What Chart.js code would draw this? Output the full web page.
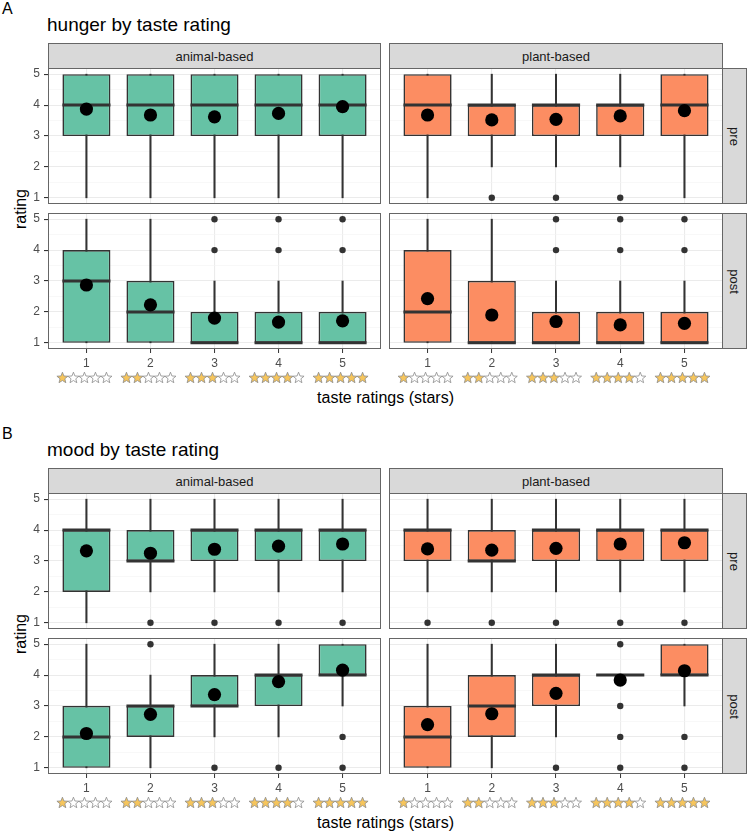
<!DOCTYPE html>
<html>
<head>
<meta charset="utf-8">
<script src="https://cdn.jsdelivr.net/npm/chart.js@4.4.1/dist/chart.umd.min.js"></script>
<style>
  html, body { margin: 0; padding: 0; background: #ffffff; }
  body { width: 749px; height: 832px; position: relative; overflow: hidden;
         font-family: "Liberation Sans", Arial, Helvetica, sans-serif; }
  canvas { position: absolute; }
  .txt { position: absolute; white-space: nowrap; }
  .strip { position: absolute; box-sizing: border-box; background: #d9d9d9; border: 1px solid #666;
           color: #1a1a1a; font-size: 13px; display: flex; align-items: center; justify-content: center; }
  .vtext { transform: rotate(90deg); display: inline-block; }
</style>
</head>
<body>
<script>
// ---------- data ----------
const tasteCategories = [1, 2, 3, 4, 5];
const tasteTickLabels = ['1', '2', '3', '4', '5'];
const starCounts = [1, 2, 3, 4, 5];
const ratingTicks = [1, 1.5, 2, 2.5, 3, 3.5, 4, 4.5, 5];
const ratingTickLabels = ['1', '', '2', '', '3', '', '4', '', '5'];
const dietLabels = ['animal-based', 'plant-based'];
const timeLabels = ['pre', 'post'];
const sectionLetters = ['A', 'B'];
const sectionTitles = ['hunger by taste rating', 'mood by taste rating'];

// A: hunger, animal-based, pre
const hungerAnimalPreLow  = [1, 1, 1, 1, 1];
const hungerAnimalPreQ1   = [3, 3, 3, 3, 3];
const hungerAnimalPreMed  = [4, 4, 4, 4, 4];
const hungerAnimalPreQ3   = [5, 5, 5, 5, 5];
const hungerAnimalPreHigh = [5, 5, 5, 5, 5];
const hungerAnimalPreMean = [3.87, 3.68, 3.62, 3.73, 3.95];
const hungerAnimalPreOut  = [[], [], [], [], []];
// A: hunger, animal-based, post
const hungerAnimalPostLow  = [1, 1, 1, 1, 1];
const hungerAnimalPostQ1   = [1, 1, 1, 1, 1];
const hungerAnimalPostMed  = [3, 2, 1, 1, 1];
const hungerAnimalPostQ3   = [4, 3, 2, 2, 2];
const hungerAnimalPostHigh = [5, 5, 3, 3, 3];
const hungerAnimalPostMean = [2.87, 2.23, 1.80, 1.67, 1.71];
const hungerAnimalPostOut  = [[], [], [4, 5], [4, 5], [4, 5]];
// A: hunger, plant-based, pre
const hungerPlantPreLow  = [1, 2, 2, 2, 1];
const hungerPlantPreQ1   = [3, 3, 3, 3, 3];
const hungerPlantPreMed  = [4, 4, 4, 4, 4];
const hungerPlantPreQ3   = [5, 4, 4, 4, 5];
const hungerPlantPreHigh = [5, 5, 5, 5, 5];
const hungerPlantPreMean = [3.68, 3.52, 3.54, 3.65, 3.82];
const hungerPlantPreOut  = [[], [1], [1], [1], []];
// A: hunger, plant-based, post
const hungerPlantPostLow  = [1, 1, 1, 1, 1];
const hungerPlantPostQ1   = [1, 1, 1, 1, 1];
const hungerPlantPostMed  = [2, 1, 1, 1, 1];
const hungerPlantPostQ3   = [4, 3, 2, 2, 2];
const hungerPlantPostHigh = [5, 5, 3, 3, 3];
const hungerPlantPostMean = [2.43, 1.90, 1.69, 1.58, 1.63];
const hungerPlantPostOut  = [[], [], [4, 5], [4, 5], [4, 5]];

// B: mood, animal-based, pre
const moodAnimalPreLow  = [1, 2, 2, 2, 2];
const moodAnimalPreQ1   = [2, 3, 3, 3, 3];
const moodAnimalPreMed  = [4, 3, 4, 4, 4];
const moodAnimalPreQ3   = [4, 4, 4, 4, 4];
const moodAnimalPreHigh = [5, 5, 5, 5, 5];
const moodAnimalPreMean = [3.33, 3.25, 3.38, 3.48, 3.55];
const moodAnimalPreOut  = [[], [1], [1], [1], [1]];
// B: mood, animal-based, post
const moodAnimalPostLow  = [1, 1, 2, 2, 3];
const moodAnimalPostQ1   = [1, 2, 3, 3, 4];
const moodAnimalPostMed  = [2, 3, 3, 4, 4];
const moodAnimalPostQ3   = [3, 3, 4, 4, 5];
const moodAnimalPostHigh = [5, 4, 5, 5, 5];
const moodAnimalPostMean = [2.11, 2.73, 3.37, 3.79, 4.16];
const moodAnimalPostOut  = [[], [5], [1], [1], [1, 2]];
// B: mood, plant-based, pre
const moodPlantPreLow  = [2, 2, 2, 2, 2];
const moodPlantPreQ1   = [3, 3, 3, 3, 3];
const moodPlantPreMed  = [4, 3, 4, 4, 4];
const moodPlantPreQ3   = [4, 4, 4, 4, 4];
const moodPlantPreHigh = [5, 5, 5, 5, 5];
const moodPlantPreMean = [3.39, 3.35, 3.41, 3.55, 3.59];
const moodPlantPreOut  = [[1], [1], [1], [1], [1]];
// B: mood, plant-based, post
const moodPlantPostLow  = [1, 1, 2, 4, 3];
const moodPlantPostQ1   = [1, 2, 3, 4, 4];
const moodPlantPostMed  = [2, 3, 4, 4, 4];
const moodPlantPostQ3   = [3, 4, 4, 4, 5];
const moodPlantPostHigh = [5, 5, 5, 4, 5];
const moodPlantPostMean = [2.40, 2.75, 3.41, 3.84, 4.14];
const moodPlantPostOut  = [[], [], [1], [1, 2, 3, 5], [1, 2]];

// ---------- layout / style ----------
const FONT = '"Liberation Sans", Arial, Helvetica, sans-serif';
const fills = ['#66c2a5', '#fc8d62'];
const cols = [{ l: 48, r: 381 }, { l: 389, r: 723 }];
const rows = [{ t: 68, b: 204 }, { t: 213, b: 349 }];
const sectionOffsets = [0, 425];

const panels = [
  { s: 0, c: 0, r: 0, lo: hungerAnimalPreLow, q1: hungerAnimalPreQ1, med: hungerAnimalPreMed, q3: hungerAnimalPreQ3, hi: hungerAnimalPreHigh, mean: hungerAnimalPreMean, out: hungerAnimalPreOut },
  { s: 0, c: 0, r: 1, lo: hungerAnimalPostLow, q1: hungerAnimalPostQ1, med: hungerAnimalPostMed, q3: hungerAnimalPostQ3, hi: hungerAnimalPostHigh, mean: hungerAnimalPostMean, out: hungerAnimalPostOut },
  { s: 0, c: 1, r: 0, lo: hungerPlantPreLow, q1: hungerPlantPreQ1, med: hungerPlantPreMed, q3: hungerPlantPreQ3, hi: hungerPlantPreHigh, mean: hungerPlantPreMean, out: hungerPlantPreOut },
  { s: 0, c: 1, r: 1, lo: hungerPlantPostLow, q1: hungerPlantPostQ1, med: hungerPlantPostMed, q3: hungerPlantPostQ3, hi: hungerPlantPostHigh, mean: hungerPlantPostMean, out: hungerPlantPostOut },
  { s: 1, c: 0, r: 0, lo: moodAnimalPreLow, q1: moodAnimalPreQ1, med: moodAnimalPreMed, q3: moodAnimalPreQ3, hi: moodAnimalPreHigh, mean: moodAnimalPreMean, out: moodAnimalPreOut },
  { s: 1, c: 0, r: 1, lo: moodAnimalPostLow, q1: moodAnimalPostQ1, med: moodAnimalPostMed, q3: moodAnimalPostQ3, hi: moodAnimalPostHigh, mean: moodAnimalPostMean, out: moodAnimalPostOut },
  { s: 1, c: 1, r: 0, lo: moodPlantPreLow, q1: moodPlantPreQ1, med: moodPlantPreMed, q3: moodPlantPreQ3, hi: moodPlantPreHigh, mean: moodPlantPreMean, out: moodPlantPreOut },
  { s: 1, c: 1, r: 1, lo: moodPlantPostLow, q1: moodPlantPostQ1, med: moodPlantPostMed, q3: moodPlantPostQ3, hi: moodPlantPostHigh, mean: moodPlantPostMean, out: moodPlantPostOut }
];

function addText(text, css, cls) {
  const d = document.createElement('div');
  d.className = cls || 'txt';
  d.textContent = text;
  Object.assign(d.style, css);
  document.body.appendChild(d);
  return d;
}

// ---------- plugins ----------
const panelBorder = {
  id: 'panelBorder',
  afterDraw(chart) {
    const { ctx, chartArea: a } = chart;
    ctx.save();
    ctx.strokeStyle = '#666';
    ctx.lineWidth = 1;
    ctx.strokeRect(a.left + 0.5, a.top + 0.5, a.right - a.left - 1, a.bottom - a.top - 1);
    ctx.restore();
  }
};

function drawStar(ctx, cx, cy, ro, ri, filled) {
  ctx.beginPath();
  for (let k = 0; k < 10; k++) {
    const ang = -Math.PI / 2 + k * Math.PI / 5;
    const r = k % 2 === 0 ? ro : ri;
    const px = cx + r * Math.cos(ang), py = cy + r * Math.sin(ang);
    if (k === 0) ctx.moveTo(px, py); else ctx.lineTo(px, py);
  }
  ctx.closePath();
  ctx.fillStyle = filled ? '#f6c55c' : '#ffffff';
  ctx.fill();
  ctx.strokeStyle = '#8c8c8c';
  ctx.lineWidth = 0.8;
  ctx.stroke();
}

const starRow = {
  id: 'starRow',
  afterDraw(chart, args, opts) {
    if (!opts || !opts.show) return;
    const { ctx, chartArea: a, scales: { x } } = chart;
    ctx.save();
    x.ticks.forEach((t, i) => {
      const cx = x.getPixelForValue(t.value) - 2;
      const cy = a.bottom + 29;
      for (let j = 0; j < 5; j++) {
        drawStar(ctx, cx + (j - 2) * 11, cy, 5.8, 2.5, j < starCounts[i]);
      }
    });
    ctx.restore();
  }
};

function halfBoxWidth(ctx) {
  const x = ctx.chart.scales.x;
  return Math.abs(x.getPixelForValue(2) - x.getPixelForValue(1)) * 0.75 / 2;
}

function buildPanel(p) {
  const col = cols[p.c], off = sectionOffsets[p.s];
  const top = rows[p.r].t + off, bottom = rows[p.r].b + off;
  const showY = p.c === 0, showX = p.r === 1;
  const padL = showY ? 48 : 3, padR = 3, padT = 3, padB = showX ? 46 : 3;
  const w = col.r - col.l + padL + padR, h = bottom - top + padT + padB;
  const canvas = document.createElement('canvas');
  canvas.width = w; canvas.height = h;
  canvas.style.left = (col.l - padL) + 'px';
  canvas.style.top = (top - padT) + 'px';
  canvas.style.width = w + 'px';
  canvas.style.height = h + 'px';
  document.body.appendChild(canvas);

  const outPts = [];
  p.out.forEach((arr, i) => arr.forEach(v => outPts.push({ x: tasteCategories[i], y: v })));

  new Chart(canvas, {
    type: 'bar',
    data: {
      datasets: [
        { type: 'bar', data: tasteCategories.map((x, i) => ({ x, y: [p.lo[i], p.hi[i]] })),
          backgroundColor: '#333333', barThickness: 1.4, grouped: false, order: 5 },
        { type: 'bar', data: tasteCategories.map((x, i) => ({ x, y: [p.q1[i], p.q3[i]] })),
          backgroundColor: fills[p.c], borderColor: '#333333', borderWidth: 1.6, borderSkipped: false,
          grouped: false, barPercentage: 0.75, categoryPercentage: 1, order: 4 },
        { type: 'line', data: tasteCategories.map((x, i) => ({ x, y: p.med[i] })),
          showLine: false, pointStyle: 'line', pointRadius: halfBoxWidth,
          pointBorderColor: '#333333', pointBorderWidth: 3, order: 3 },
        { type: 'line', data: outPts, showLine: false, pointRadius: 3.2,
          pointBackgroundColor: '#333333', pointBorderWidth: 0, order: 2 },
        { type: 'line', data: tasteCategories.map((x, i) => ({ x, y: p.mean[i] })),
          showLine: false, pointRadius: 6.6, pointBackgroundColor: '#000000', pointBorderWidth: 0, order: 1 }
      ]
    },
    options: {
      responsive: false, animation: false, events: [],
      layout: { autoPadding: false, padding: { left: showY ? 0 : 3, right: 3, top: 3, bottom: showX ? 0 : 3 } },
      plugins: { legend: { display: false }, tooltip: { enabled: false }, starRow: { show: showX } },
      scales: {
        x: {
          type: 'linear', min: 0.4, max: 5.6, offset: false,
          afterBuildTicks: s => { s.ticks = tasteCategories.map(v => ({ value: v })); },
          afterFit: s => { s.height = showX ? 46 : 0; s.paddingLeft = 0; s.paddingRight = 0; },
          grid: { offset: false, color: '#ebebeb', lineWidth: 1.1, drawTicks: showX, tickLength: 4, tickColor: '#333333', tickWidth: 1 },
          border: { display: false },
          ticks: { display: showX, padding: 3, color: '#4d4d4d', font: { family: FONT, size: 12 },
                   maxRotation: 0, autoSkip: false, callback: (v, i) => tasteTickLabels[i] }
        },
        y: {
          type: 'linear', min: 0.8, max: 5.2,
          afterBuildTicks: s => { s.ticks = ratingTicks.map(v => ({ value: v })); },
          afterFit: s => { s.width = showY ? 48 : 0; s.paddingTop = 0; s.paddingBottom = 0; },
          grid: {
            color: c => (c.tick && Number.isInteger(c.tick.value)) ? '#ebebeb' : '#f3f3f3',
            lineWidth: c => (c.tick && Number.isInteger(c.tick.value)) ? 1.1 : 0.6,
            drawTicks: showY, tickLength: 4,
            tickColor: c => (c.tick && Number.isInteger(c.tick.value)) ? '#333333' : 'rgba(0,0,0,0)'
          },
          border: { display: false },
          ticks: { display: showY, padding: 4, color: '#4d4d4d', font: { family: FONT, size: 12 },
                   autoSkip: false, callback: (v, i) => ratingTickLabels[i] }
        }
      }
    },
    plugins: [panelBorder, starRow]
  });
}

// ---------- text / strips ----------
sectionOffsets.forEach((off, s) => {
  addText(sectionLetters[s], { left: '2px', top: (off - 1.5) + 'px', height: '20px', lineHeight: '20px', fontSize: '16px', color: '#000' });
  addText(sectionTitles[s], { left: '47px', top: (off + 13) + 'px', height: '24px', lineHeight: '24px', fontSize: '19px', color: '#000' });
  cols.forEach((col, c) => {
    addText(dietLabels[c], { left: col.l + 'px', top: (off + 43) + 'px', width: (col.r - col.l) + 'px', height: '26px' }, 'strip');
  });
  rows.forEach((row, r) => {
    const d = addText('', { left: '722px', top: (row.t + off) + 'px', width: '25px', height: (row.b - row.t) + 'px' }, 'strip');
    const sp = document.createElement('span');
    sp.className = 'vtext';
    sp.textContent = timeLabels[r];
    d.appendChild(sp);
  });
  addText('rating', { left: '-29px', top: (off + 198.5) + 'px', width: '100px', height: '20px', lineHeight: '20px',
                      textAlign: 'center', fontSize: '16px', color: '#000', transform: 'rotate(-90deg)' });
  addText('taste ratings (stars)', { left: '235.5px', top: (off + 388) + 'px', width: '300px', height: '20px', lineHeight: '20px',
                      textAlign: 'center', fontSize: '16px', color: '#000' });
});

panels.forEach(buildPanel);
</script>
</body>
</html>
